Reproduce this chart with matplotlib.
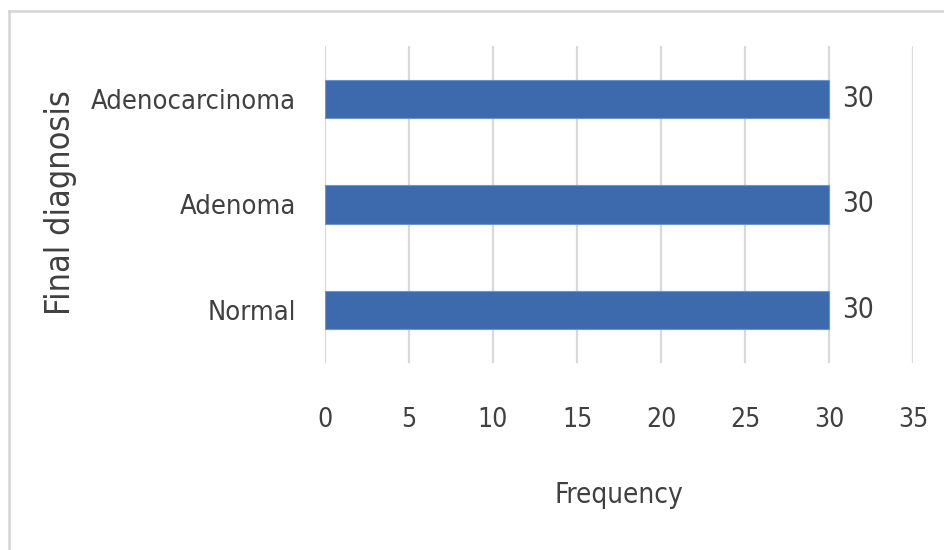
import matplotlib
matplotlib.use('Agg')
import matplotlib.pyplot as plt
from matplotlib.lines import Line2D

# diagnosis groups, bottom to top
categories = ['Normal', 'Adenoma', 'Adenocarcinoma']
frequency = [30, 30, 30]
xticks = [0, 5, 10, 15, 20, 25, 30, 35]

font = dict(family='DejaVu Sans', fontstretch='condensed')
textcol = '#404040'
barcol = '#3d6aad'
gridcol = '#d9d9d9'

fig = plt.figure(figsize=(9.44, 5.5), dpi=100)
ax = fig.add_axes([0.3443, 0.34, 0.6229, 0.5764])

ypos = list(range(len(categories)))
ax.barh(ypos, frequency, height=0.36, color=barcol,
        edgecolor='#6f93cc', linewidth=0.8, zorder=3)

# value labels next to each bar
for y, v in zip(ypos, frequency):
    ax.text(v + 0.8, y, str(v), va='center', ha='left',
            fontsize=20, color=textcol, **font)

ax.set_xlim(0, 35)
ax.set_ylim(-0.5, len(categories) - 0.5)
ax.set_xticks(xticks)
ax.set_yticks(ypos)
ax.set_yticklabels(categories)
for lab in ax.get_xticklabels():
    lab.set_family(font['family'])
    lab.set_stretch(font['fontstretch'])
    lab.set_fontsize(19)
    lab.set_color(textcol)
for lab in ax.get_yticklabels():
    lab.set_family(font['family'])
    lab.set_stretch(font['fontstretch'])
    lab.set_fontsize(19.5)
    lab.set_color(textcol)
ax.tick_params(axis='x', length=0, pad=32)
ax.tick_params(axis='y', length=0, pad=21)

ax.grid(axis='x', color=gridcol, linewidth=1.6, zorder=0)
for s in ax.spines.values():
    s.set_visible(False)

ax.set_xlabel('Frequency', fontsize=20, color=textcol, labelpad=34, **font)
fig.text(61 / 944, 1 - 203 / 550, 'Final diagnosis', rotation=90,
         va='center', ha='center', fontsize=24.5, color=textcol, **font)

# outer frame: top and left edges only
fig.add_artist(Line2D([9 / 944, 1], [1 - 11 / 550, 1 - 11 / 550],
                      transform=fig.transFigure, color='#d4d4d4', linewidth=1.8))
fig.add_artist(Line2D([9 / 944, 9 / 944], [0, 1 - 11 / 550],
                      transform=fig.transFigure, color='#d4d4d4', linewidth=1.8))

fig.savefig('out.png', dpi=100)
